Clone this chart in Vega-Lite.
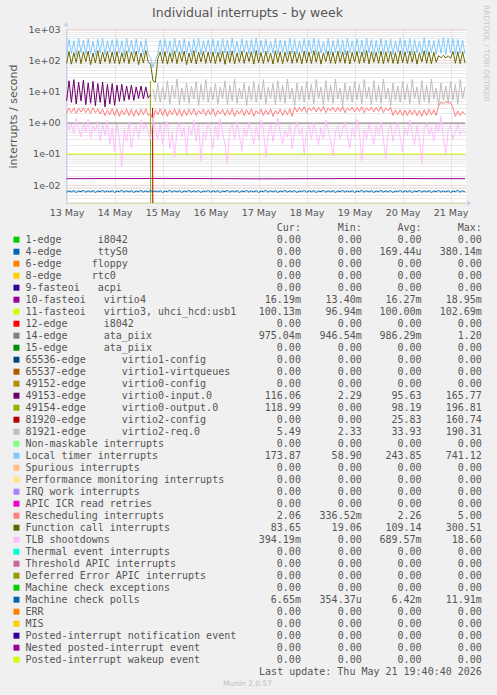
{
"$schema": "https://vega.github.io/schema/vega-lite/v6.json",
"background": "#f0f0f0",
"padding": {"left": 7, "top": 5, "right": 6, "bottom": 7},
"title": {"text": "RRDTOOL / TOBI OETIKER", "orient": "right", "anchor": "start", "frame": "group", "fontSize": 7.5, "fontWeight": "normal", "font": "DejaVu Sans", "color": "#c8c8c8", "offset": 1, "dx": -24},
"bounds": "flush",
"spacing": 18.7,
"resolve": {"scale": {"color": "independent", "x": "independent", "y": "independent"}},
"config": {"view": {"stroke": null}, "font": "DejaVu Sans"},
"datasets": {
"flat": [
{"h":12,"s":"V","v":0.0162},{"h":60,"s":"V","v":0.0165},{"h":110,"s":"V","v":0.016},{"h":160,"s":"V","v":0.0164},{"h":211.2,"s":"V","v":0.0162},
{"h":12,"s":"U","v":0.1},{"h":211.2,"s":"U","v":0.1},
{"h":12,"s":"K","v":0.98},{"h":211.2,"s":"K","v":0.98},
{"h":53.9,"s":"N","v":22},{"h":54,"s":"N","v":0.001},
{"h":55,"s":"D","v":3},{"h":55.1,"s":"D","v":0.001}
],
"wide": [
{"h":12,"T":150,"F":80,"P":5,"R":2,"B":1.2,"M":0.006},
{"h":13.2,"T":460,"F":190,"P":22,"R":2.9,"B":0.6,"M":0.0066},
{"h":14.4,"T":165,"F":75,"P":4.5,"R":2.1,"B":0.9,"M":0.0061},
{"h":15.6,"T":420,"F":175,"P":24,"R":3,"B":0.45,"M":0.0067},
{"h":16.8,"T":140,"F":85,"P":4,"R":2,"B":1.4,"M":0.0059},
{"h":18,"T":500,"F":200,"P":20,"R":2.9,"B":0.7,"M":0.0065},
{"h":19.2,"T":175,"F":78,"P":5,"R":2.2,"B":0.35,"M":0.0062},
{"h":20.4,"T":440,"F":185,"P":23,"R":3,"B":1,"M":0.0068},
{"h":21.6,"T":155,"F":90,"P":3.8,"R":2.1,"B":0.5,"M":0.006},
{"h":22.8,"T":480,"F":195,"P":19,"R":2.9,"B":1.3,"M":0.0066},
{"h":24,"T":160,"F":72,"P":4.2,"R":2,"B":0.3,"M":0.0061},
{"h":25.2,"T":400,"F":170,"P":21,"R":3,"B":0.8,"M":0.0067},
{"h":26.4,"T":145,"F":82,"P":3.5,"R":2.1,"B":0.55,"M":0.0059},
{"h":27.6,"T":470,"F":205,"P":18,"R":2.8,"B":1.1,"M":0.0065},
{"h":28.8,"T":170,"F":76,"P":4.5,"R":1.9,"B":0.25,"M":0.0062},
{"h":30,"T":510,"F":180,"P":20,"R":2.7,"B":0.9,"M":0.0068},
{"h":31.2,"T":150,"F":88,"P":3.2,"R":1.7,"B":0.4,"M":0.006},
{"h":32.4,"T":430,"F":190,"P":17,"R":2.6,"B":1.2,"M":0.0066},
{"h":33.6,"T":180,"F":80,"P":4,"R":1.8,"B":0.2,"M":0.0061},
{"h":34.8,"T":450,"F":185,"P":18,"R":2.8,"B":0.7,"M":0.0067},
{"h":36,"T":150,"F":80,"P":3.6,"R":1.7,"B":0.12,"M":0.0059},
{"h":37.2,"T":460,"F":190,"P":16,"R":2.7,"B":0.9,"M":0.0065},
{"h":38.4,"T":165,"F":75,"P":4.8,"R":1.6,"B":0.3,"M":0.0062},
{"h":39.6,"T":420,"F":175,"P":17,"R":2.6,"B":0.04,"M":0.0068},
{"h":40.8,"T":140,"F":85,"P":5,"R":1.8,"B":0.6,"M":0.006},
{"h":42,"T":500,"F":200,"P":15,"R":2.8,"B":0.25,"M":0.0066},
{"h":43.2,"T":175,"F":78,"P":5.5,"R":1.7,"B":1,"M":0.0061},
{"h":44.4,"T":440,"F":185,"P":16,"R":2.7,"B":0.15,"M":0.0067},
{"h":45.6,"T":155,"F":90,"P":5.2,"R":1.6,"B":0.5,"M":0.0059},
{"h":46.8,"T":480,"F":195,"P":14,"R":2.6,"B":0.8,"M":0.0065},
{"h":48,"T":160,"F":72,"P":6,"R":1.7,"B":0.3,"M":0.0062},
{"h":49.2,"T":400,"F":170,"P":15,"R":2.7,"B":1.2,"M":0.0068},
{"h":50.4,"T":145,"F":82,"P":5.8,"R":1.8,"B":0.6,"M":0.006},
{"h":51.6,"T":470,"F":205,"P":14,"R":2.8,"B":0.9,"M":0.0066},
{"h":52.8,"T":160,"F":90,"P":6.2,"R":1.7,"B":0.5,"M":0.0061},
{"h":54,"T":120,"F":75,"P":8,"R":2,"B":0.3,"M":0.0067},
{"h":55.2,"T":60,"F":22,"G":12,"R":1.2,"B":1.5,"M":0.0063},
{"h":56.4,"T":95,"F":20,"G":5,"R":2.6,"B":0.6,"M":0.0065},
{"h":57.6,"T":165,"F":110,"G":18,"R":1.8,"B":0.3,"M":0.0061},
{"h":58.8,"T":450,"F":185,"G":4.5,"R":2.8,"B":0.9,"M":0.0067},
{"h":60,"T":150,"F":80,"G":14,"R":1.7,"B":0.2,"M":0.0059},
{"h":61.2,"T":460,"F":190,"G":5.5,"R":2.7,"B":0.7,"M":0.0065},
{"h":62.4,"T":165,"F":75,"G":22,"R":1.6,"B":1.1,"M":0.0062},
{"h":63.6,"T":420,"F":175,"G":4,"R":2.6,"B":0.15,"M":0.0068},
{"h":64.8,"T":140,"F":85,"G":16,"R":1.8,"B":0.5,"M":0.006},
{"h":66,"T":500,"F":200,"G":6,"R":2.8,"B":0.08,"M":0.0066},
{"h":67.2,"T":175,"F":78,"G":25,"R":1.7,"B":0.6,"M":0.0061},
{"h":68.4,"T":440,"F":185,"G":3.8,"R":2.7,"B":1,"M":0.0067},
{"h":69.6,"T":155,"F":90,"G":13,"R":1.6,"B":0.35,"M":0.0059},
{"h":70.8,"T":480,"F":195,"G":5,"R":2.6,"B":0.7,"M":0.0065},
{"h":72,"T":160,"F":72,"G":19,"R":1.7,"B":0.1,"M":0.0062},
{"h":73.2,"T":400,"F":170,"G":4.2,"R":2.7,"B":0.8,"M":0.0068},
{"h":74.4,"T":145,"F":82,"G":15,"R":1.8,"B":0.4,"M":0.006},
{"h":75.6,"T":470,"F":205,"G":5.8,"R":2.8,"B":1.2,"M":0.0066},
{"h":76.8,"T":170,"F":76,"G":21,"R":1.7,"B":0.25,"M":0.0061},
{"h":78,"T":510,"F":180,"G":3.5,"R":2.5,"B":0.9,"M":0.0067},
{"h":79.2,"T":150,"F":88,"G":17,"R":1.9,"B":0.06,"M":0.0059},
{"h":80.4,"T":430,"F":190,"G":5.2,"R":2.7,"B":0.5,"M":0.0065},
{"h":81.6,"T":180,"F":80,"G":24,"R":1.7,"B":0.3,"M":0.0062},
{"h":82.8,"T":450,"F":185,"G":4.5,"R":2.6,"B":1,"M":0.0068},
{"h":84,"T":155,"F":82,"G":14,"R":1.8,"B":0.45,"M":0.006},
{"h":85.2,"T":470,"F":185,"G":5.5,"R":2.8,"B":0.15,"M":0.0066},
{"h":86.4,"T":160,"F":78,"G":18,"R":1.6,"B":0.8,"M":0.0061},
{"h":87.6,"T":430,"F":180,"G":4,"R":2.5,"B":0.3,"M":0.0067},
{"h":88.8,"T":150,"F":88,"G":14,"R":1.9,"B":1.3,"M":0.0059},
{"h":90,"T":490,"F":195,"G":6,"R":2.7,"B":0.5,"M":0.0065},
{"h":91.2,"T":170,"F":74,"G":22,"R":1.7,"B":0.2,"M":0.0062},
{"h":92.4,"T":450,"F":190,"G":3.8,"R":2.6,"B":0.05,"M":0.0068},
{"h":93.6,"T":145,"F":84,"G":16,"R":1.8,"B":0.6,"M":0.006},
{"h":94.8,"T":500,"F":200,"G":5,"R":2.8,"B":0.9,"M":0.0066},
{"h":96,"T":165,"F":77,"G":25,"R":1.6,"B":0.3,"M":0.0061},
{"h":97.2,"T":410,"F":172,"G":4.2,"R":2.5,"B":1.1,"M":0.0067},
{"h":98.4,"T":150,"F":86,"G":13,"R":1.9,"B":0.4,"M":0.0059},
{"h":99.6,"T":480,"F":198,"G":5.8,"R":2.7,"B":0.12,"M":0.0065},
{"h":100.8,"T":175,"F":80,"G":19,"R":1.7,"B":0.7,"M":0.0062},
{"h":102,"T":440,"F":182,"G":3.5,"R":2.6,"B":0.35,"M":0.0068},
{"h":103.2,"T":155,"F":90,"G":15,"R":1.8,"B":1,"M":0.006},
{"h":104.4,"T":460,"F":188,"G":5.2,"R":2.8,"B":0.5,"M":0.0066},
{"h":105.6,"T":160,"F":75,"G":21,"R":1.6,"B":0.2,"M":0.0061},
{"h":106.8,"T":520,"F":205,"G":4.5,"R":2.5,"B":0.8,"M":0.0067},
{"h":108,"T":148,"F":82,"G":17,"R":1.9,"B":0.3,"M":0.0059},
{"h":109.2,"T":430,"F":178,"G":5.5,"R":2.7,"B":1.2,"M":0.0065},
{"h":110.4,"T":170,"F":79,"G":24,"R":1.7,"B":0.6,"M":0.0062},
{"h":111.6,"T":470,"F":192,"G":4,"R":2.6,"B":0.08,"M":0.0068},
{"h":112.8,"T":158,"F":87,"G":14,"R":1.8,"B":0.4,"M":0.006},
{"h":114,"T":400,"F":170,"G":6,"R":2.8,"B":0.9,"M":0.0066},
{"h":115.2,"T":165,"F":76,"G":18,"R":1.6,"B":0.25,"M":0.0061},
{"h":116.4,"T":490,"F":200,"G":3.8,"R":2.5,"B":0.7,"M":0.0067},
{"h":117.6,"T":150,"F":85,"G":22,"R":1.9,"B":1.4,"M":0.0059},
{"h":118.8,"T":450,"F":186,"G":5,"R":2.7,"B":0.5,"M":0.0065},
{"h":120,"T":172,"F":78,"G":16,"R":1.7,"B":0.2,"M":0.0062},
{"h":121.2,"T":430,"F":180,"G":4.2,"R":2.6,"B":0.6,"M":0.0068},
{"h":122.4,"T":148,"F":88,"G":25,"R":1.8,"B":0.35,"M":0.006},
{"h":123.6,"T":500,"F":196,"G":5.8,"R":2.8,"B":0.9,"M":0.0066},
{"h":124.8,"T":160,"F":80,"G":13,"R":1.6,"B":0.15,"M":0.0061},
{"h":126,"T":470,"F":190,"G":3.5,"R":3.2,"B":0.5,"M":0.0067},
{"h":127.2,"T":155,"F":84,"G":19,"R":2.2,"B":1.1,"M":0.0059},
{"h":128.4,"T":420,"F":176,"G":5.2,"R":3.1,"B":0.4,"M":0.0065},
{"h":129.6,"T":175,"F":77,"G":15,"R":2.3,"B":0.7,"M":0.0062},
{"h":130.8,"T":480,"F":198,"G":4.5,"R":3.3,"B":0.1,"M":0.0068},
{"h":132,"T":150,"F":82,"G":21,"R":2.1,"B":0.5,"M":0.006},
{"h":133.2,"T":440,"F":184,"G":5.5,"R":3,"B":0.8,"M":0.0066},
{"h":134.4,"T":165,"F":79,"G":17,"R":2.4,"B":0.3,"M":0.0061},
{"h":135.6,"T":510,"F":202,"G":4,"R":3.2,"B":1,"M":0.0067},
{"h":136.8,"T":145,"F":86,"G":24,"R":2.2,"B":0.45,"M":0.0059},
{"h":138,"T":460,"F":188,"G":6,"R":3.1,"B":0.2,"M":0.0065},
{"h":139.2,"T":170,"F":75,"G":14,"R":2.3,"B":0.7,"M":0.0062},
{"h":140.4,"T":400,"F":172,"G":3.8,"R":3.3,"B":0.3,"M":0.0068},
{"h":141.6,"T":158,"F":90,"G":22,"R":2.1,"B":1.2,"M":0.006},
{"h":142.8,"T":490,"F":196,"G":5,"R":3,"B":0.6,"M":0.0066},
{"h":144,"T":150,"F":80,"G":16,"R":2.4,"B":0.25,"M":0.0061},
{"h":145.2,"T":430,"F":182,"G":4.2,"R":3.2,"B":0.09,"M":0.0067},
{"h":146.4,"T":175,"F":78,"G":25,"R":2.2,"B":0.5,"M":0.0059},
{"h":147.6,"T":470,"F":194,"G":5.8,"R":3.1,"B":0.8,"M":0.0065},
{"h":148.8,"T":160,"F":85,"G":13,"R":2.3,"B":0.3,"M":0.0062},
{"h":150,"T":450,"F":186,"G":3.5,"R":3.3,"B":0.6,"M":0.0068},
{"h":151.2,"T":148,"F":80,"G":19,"R":2.1,"B":1,"M":0.006},
{"h":152.4,"T":500,"F":200,"G":5.2,"R":3,"B":0.4,"M":0.0066},
{"h":153.6,"T":170,"F":76,"G":15,"R":2.4,"B":0.15,"M":0.0061},
{"h":154.8,"T":420,"F":178,"G":4.5,"R":3.2,"B":0.7,"M":0.0067},
{"h":156,"T":155,"F":88,"G":21,"R":2.2,"B":0.35,"M":0.0059},
{"h":157.2,"T":480,"F":192,"G":5.5,"R":3.1,"B":1.3,"M":0.0065},
{"h":158.4,"T":165,"F":79,"G":17,"R":2.3,"B":0.5,"M":0.0062},
{"h":159.6,"T":440,"F":184,"G":4,"R":3.3,"B":0.06,"M":0.0068},
{"h":160.8,"T":150,"F":84,"G":24,"R":2.1,"B":0.6,"M":0.006},
{"h":162,"T":510,"F":204,"G":6,"R":3,"B":0.3,"M":0.0066},
{"h":163.2,"T":172,"F":77,"G":14,"R":2.4,"B":0.9,"M":0.0061},
{"h":164.4,"T":460,"F":188,"G":3.8,"R":3.2,"B":0.45,"M":0.0067},
{"h":165.6,"T":145,"F":86,"G":22,"R":2.2,"B":0.2,"M":0.0059},
{"h":166.8,"T":430,"F":180,"G":5,"R":3.1,"B":0.8,"M":0.0065},
{"h":168,"T":160,"F":80,"G":16,"R":2.3,"B":0.4,"M":0.0062},
{"h":169.2,"T":490,"F":196,"G":4.2,"R":3.3,"B":1.1,"M":0.0068},
{"h":170.4,"T":155,"F":78,"G":25,"R":2.1,"B":0.3,"M":0.006},
{"h":171.6,"T":450,"F":186,"G":5.8,"R":3,"B":0.07,"M":0.0066},
{"h":172.8,"T":168,"F":85,"G":13,"R":2.4,"B":0.5,"M":0.0061},
{"h":174,"T":470,"F":192,"G":3.5,"R":3.2,"B":0.9,"M":0.0067},
{"h":175.2,"T":150,"F":80,"G":19,"R":1.7,"B":0.25,"M":0.0059},
{"h":176.4,"T":420,"F":176,"G":5.2,"R":2.6,"B":0.6,"M":0.0065},
{"h":177.6,"T":175,"F":77,"G":15,"R":1.8,"B":1,"M":0.0062},
{"h":178.8,"T":500,"F":200,"G":4.5,"R":2.6,"B":0.35,"M":0.0068},
{"h":180,"T":152,"F":83,"G":21,"R":1.7,"B":0.12,"M":0.006},
{"h":181.2,"T":440,"F":184,"G":5.5,"R":2.5,"B":0.7,"M":0.0066},
{"h":182.4,"T":165,"F":79,"G":17,"R":1.7,"B":0.4,"M":0.0061},
{"h":183.6,"T":480,"F":196,"G":4,"R":2.6,"B":1.2,"M":0.0067},
{"h":184.8,"T":148,"F":86,"G":24,"R":1.8,"B":0.5,"M":0.0059},
{"h":186,"T":460,"F":188,"G":6,"R":2.6,"B":0.2,"M":0.0065},
{"h":187.2,"T":170,"F":75,"G":14,"R":1.7,"B":0.8,"M":0.0062},
{"h":188.4,"T":410,"F":174,"G":3.8,"R":2.5,"B":0.3,"M":0.0068},
{"h":189.6,"T":158,"F":88,"G":22,"R":1.6,"B":0.05,"M":0.006},
{"h":190.8,"T":520,"F":202,"G":5,"R":2.6,"B":0.6,"M":0.0066},
{"h":192,"T":150,"F":80,"G":16,"R":1.7,"B":1,"M":0.0061},
{"h":193.2,"T":450,"F":186,"G":4.2,"R":2.7,"B":0.4,"M":0.0067},
{"h":194.4,"T":172,"F":78,"G":25,"R":1.8,"B":0.7,"M":0.0059},
{"h":195.6,"T":430,"F":180,"G":5.8,"R":2.6,"B":0.25,"M":0.0065},
{"h":196.8,"T":155,"F":86,"G":13,"R":1.7,"B":0.9,"M":0.0062},
{"h":198,"T":470,"F":140,"G":3.5,"R":3.5,"B":0.5,"M":0.0068},
{"h":199.2,"T":165,"F":120,"G":19,"R":4.6,"B":1.6,"M":0.006},
{"h":200.4,"T":540,"F":145,"G":5.2,"R":4,"B":0.3,"M":0.0066},
{"h":201.6,"T":150,"F":118,"G":15,"R":4.8,"B":0.1,"M":0.0061},
{"h":202.8,"T":500,"F":140,"G":4.5,"R":4.2,"B":0.6,"M":0.0067},
{"h":204,"T":170,"F":115,"G":21,"R":4.5,"B":0.8,"M":0.0059},
{"h":205.2,"T":480,"F":190,"G":5.5,"R":3,"B":0.3,"M":0.0065},
{"h":206.4,"T":150,"F":80,"G":17,"R":1.6,"B":0.5,"M":0.0062},
{"h":207.6,"T":460,"F":185,"G":4,"R":2.4,"B":0.9,"M":0.0068},
{"h":208.8,"T":165,"F":78,"G":24,"R":1.7,"B":0.4,"M":0.006},
{"h":210,"T":440,"F":188,"G":6,"R":2.3,"B":0.6,"M":0.0066},
{"h":211.2,"T":160,"F":82,"G":14,"R":1.8,"B":0.5,"M":0.0061}
],
"leg": [
{"r":0,"c":"Cur:\u00a0\u00a0","m":"Min:\u00a0\u00a0","a":"Avg:\u00a0\u00a0","x":"Max:\u00a0\u00a0"},
{"r":1,"n":"1-edge\u00a0\u00a0\u00a0\u00a0\u00a0\u00a0i8042","c":"0.00\u00a0","m":"0.00\u00a0","a":"0.00\u00a0","x":"0.00\u00a0"},
{"r":2,"n":"4-edge\u00a0\u00a0\u00a0\u00a0\u00a0\u00a0ttyS0","c":"0.00\u00a0","m":"0.00\u00a0","a":"169.44u","x":"380.14m"},
{"r":3,"n":"6-edge\u00a0\u00a0\u00a0\u00a0\u00a0floppy","c":"0.00\u00a0","m":"0.00\u00a0","a":"0.00\u00a0","x":"0.00\u00a0"},
{"r":4,"n":"8-edge\u00a0\u00a0\u00a0\u00a0\u00a0rtc0","c":"0.00\u00a0","m":"0.00\u00a0","a":"0.00\u00a0","x":"0.00\u00a0"},
{"r":5,"n":"9-fasteoi\u00a0\u00a0\u00a0acpi","c":"0.00\u00a0","m":"0.00\u00a0","a":"0.00\u00a0","x":"0.00\u00a0"},
{"r":6,"n":"10-fasteoi\u00a0\u00a0\u00a0virtio4","c":"16.19m","m":"13.40m","a":"16.27m","x":"18.95m"},
{"r":7,"n":"11-fasteoi\u00a0\u00a0\u00a0virtio3,\u00a0uhci_hcd:usb1","c":"100.13m","m":"96.94m","a":"100.00m","x":"102.69m"},
{"r":8,"n":"12-edge\u00a0\u00a0\u00a0\u00a0\u00a0\u00a0i8042","c":"0.00\u00a0","m":"0.00\u00a0","a":"0.00\u00a0","x":"0.00\u00a0"},
{"r":9,"n":"14-edge\u00a0\u00a0\u00a0\u00a0\u00a0\u00a0ata_piix","c":"975.04m","m":"946.54m","a":"986.29m","x":"1.20\u00a0"},
{"r":10,"n":"15-edge\u00a0\u00a0\u00a0\u00a0\u00a0\u00a0ata_piix","c":"0.00\u00a0","m":"0.00\u00a0","a":"0.00\u00a0","x":"0.00\u00a0"},
{"r":11,"n":"65536-edge\u00a0\u00a0\u00a0\u00a0\u00a0\u00a0virtio1-config","c":"0.00\u00a0","m":"0.00\u00a0","a":"0.00\u00a0","x":"0.00\u00a0"},
{"r":12,"n":"65537-edge\u00a0\u00a0\u00a0\u00a0\u00a0\u00a0virtio1-virtqueues","c":"0.00\u00a0","m":"0.00\u00a0","a":"0.00\u00a0","x":"0.00\u00a0"},
{"r":13,"n":"49152-edge\u00a0\u00a0\u00a0\u00a0\u00a0\u00a0virtio0-config","c":"0.00\u00a0","m":"0.00\u00a0","a":"0.00\u00a0","x":"0.00\u00a0"},
{"r":14,"n":"49153-edge\u00a0\u00a0\u00a0\u00a0\u00a0\u00a0virtio0-input.0","c":"116.06\u00a0","m":"2.29\u00a0","a":"95.63\u00a0","x":"165.77\u00a0"},
{"r":15,"n":"49154-edge\u00a0\u00a0\u00a0\u00a0\u00a0\u00a0virtio0-output.0","c":"118.99\u00a0","m":"0.00\u00a0","a":"98.19\u00a0","x":"196.81\u00a0"},
{"r":16,"n":"81920-edge\u00a0\u00a0\u00a0\u00a0\u00a0\u00a0virtio2-config","c":"0.00\u00a0","m":"0.00\u00a0","a":"25.83\u00a0","x":"160.74\u00a0"},
{"r":17,"n":"81921-edge\u00a0\u00a0\u00a0\u00a0\u00a0\u00a0virtio2-req.0","c":"5.49\u00a0","m":"2.33\u00a0","a":"33.93\u00a0","x":"190.31\u00a0"},
{"r":18,"n":"Non-maskable interrupts","c":"0.00\u00a0","m":"0.00\u00a0","a":"0.00\u00a0","x":"0.00\u00a0"},
{"r":19,"n":"Local timer interrupts","c":"173.87\u00a0","m":"58.90\u00a0","a":"243.85\u00a0","x":"741.12\u00a0"},
{"r":20,"n":"Spurious interrupts","c":"0.00\u00a0","m":"0.00\u00a0","a":"0.00\u00a0","x":"0.00\u00a0"},
{"r":21,"n":"Performance monitoring interrupts","c":"0.00\u00a0","m":"0.00\u00a0","a":"0.00\u00a0","x":"0.00\u00a0"},
{"r":22,"n":"IRQ work interrupts","c":"0.00\u00a0","m":"0.00\u00a0","a":"0.00\u00a0","x":"0.00\u00a0"},
{"r":23,"n":"APIC ICR read retries","c":"0.00\u00a0","m":"0.00\u00a0","a":"0.00\u00a0","x":"0.00\u00a0"},
{"r":24,"n":"Rescheduling interrupts","c":"2.06\u00a0","m":"336.52m","a":"2.26\u00a0","x":"5.00\u00a0"},
{"r":25,"n":"Function call interrupts","c":"83.65\u00a0","m":"19.06\u00a0","a":"109.14\u00a0","x":"300.51\u00a0"},
{"r":26,"n":"TLB shootdowns","c":"394.19m","m":"0.00\u00a0","a":"689.57m","x":"18.60\u00a0"},
{"r":27,"n":"Thermal event interrupts","c":"0.00\u00a0","m":"0.00\u00a0","a":"0.00\u00a0","x":"0.00\u00a0"},
{"r":28,"n":"Threshold APIC interrupts","c":"0.00\u00a0","m":"0.00\u00a0","a":"0.00\u00a0","x":"0.00\u00a0"},
{"r":29,"n":"Deferred Error APIC interrupts","c":"0.00\u00a0","m":"0.00\u00a0","a":"0.00\u00a0","x":"0.00\u00a0"},
{"r":30,"n":"Machine check exceptions","c":"0.00\u00a0","m":"0.00\u00a0","a":"0.00\u00a0","x":"0.00\u00a0"},
{"r":31,"n":"Machine check polls","c":"6.65m","m":"354.37u","a":"6.42m","x":"11.91m"},
{"r":32,"n":"ERR","c":"0.00\u00a0","m":"0.00\u00a0","a":"0.00\u00a0","x":"0.00\u00a0"},
{"r":33,"n":"MIS","c":"0.00\u00a0","m":"0.00\u00a0","a":"0.00\u00a0","x":"0.00\u00a0"},
{"r":34,"n":"Posted-interrupt notification event","c":"0.00\u00a0","m":"0.00\u00a0","a":"0.00\u00a0","x":"0.00\u00a0"},
{"r":35,"n":"Nested posted-interrupt event","c":"0.00\u00a0","m":"0.00\u00a0","a":"0.00\u00a0","x":"0.00\u00a0"},
{"r":36,"n":"Posted-interrupt wakeup event","c":"0.00\u00a0","m":"0.00\u00a0","a":"0.00\u00a0","x":"0.00\u00a0"},
{"r":37,"x":"Last update: Thu May 21 19:40:40 2026"}
]
},
"vconcat": [
{
"width": 400,
"height": 174,
"view": {"fill": "#ffffff", "stroke": null},
"title": {"text": "Individual interrupts - by week", "anchor": "middle", "frame": "group", "fontSize": 12.5, "fontWeight": "normal", "font": "DejaVu Sans", "color": "#555555", "offset": 2, "dx": -18.5},
"layer": [
{
"data": {"name": "flat"},
"mark": {"type": "line", "strokeWidth": 1, "clip": true},
"encoding": {
"x": {"field": "h", "type": "quantitative", "scale": {"domain": [11.7, 211.7], "nice": false, "zero": false},
"axis": {"values": [12,18,24,30,36,42,48,54,60,66,72,78,84,90,96,102,108,114,120,126,132,138,144,150,156,162,168,174,180,186,192,198,204,210],
"labelExpr": "(datum.value-12)%24==0 ? (13+(datum.value-12)/24)+' May' : ''",
"grid": true, "gridColor": {"condition": {"test": "datum.value % 24 == 0", "value": "#e8a8a8"}, "value": "#d2d2d2"}, "gridDash": [1,1], "gridWidth": 1,
"ticks": false, "domain": true, "domainColor": "#cfe3a3", "domainWidth": 1,
"labelFont": "DejaVu Sans", "labelFontSize": 9.5, "labelColor": "#555555", "labelPadding": 4, "labelOverlap": false, "labelBound": false, "labelFlush": false, "title": null}},
"y": {"field": "v", "type": "quantitative", "scale": {"type": "log", "domain": [0.0027, 1000], "nice": false},
"axis": {"values": [0.003,0.004,0.005,0.006,0.007,0.008,0.009,0.01,0.02,0.03,0.04,0.05,0.06,0.07,0.08,0.09,0.1,0.2,0.3,0.4,0.5,0.6,0.7,0.8,0.9,1,2,3,4,5,6,7,8,9,10,20,30,40,50,60,70,80,90,100,200,300,400,500,600,700,800,900,1000],
"labelExpr": "datum.value==1000?'1e+03':datum.value==100?'1e+02':datum.value==10?'1e+01':datum.value==1?'1e+00':datum.value==0.1?'1e-01':datum.value==0.01?'1e-02':''",
"grid": true, "gridColor": {"condition": {"test": "indexof([0.01,0.1,1,10,100,1000], datum.value) >= 0", "value": "#e8a8a8"}, "value": "#d2d2d2"}, "gridDash": [1,1], "gridWidth": 1,
"ticks": false, "domain": true, "domainColor": "#c8d0f0",
"labelFont": "DejaVu Sans", "labelFontSize": 9.5, "labelColor": "#555555", "labelPadding": 6, "labelOverlap": false, "labelBound": false, "labelFlush": false,
"title": "interrupts / second", "titleFont": "DejaVu Sans", "titleFontSize": 11, "titleFontWeight": "normal", "titleColor": "#555555", "titlePadding": 10}},
"color": {"field": "s", "type": "nominal", "scale": {"domain": ["V","U","K","N","D","P","G","T","R","F","B","M"], "range": ["#990099","#CCFF00","#808080","#8FB300","#B30000","#6B006B","#BEBEBE","#80C9FF","#FF8080","#666600","#FFBFFF","#0066B3"]}, "legend": null}
}
},
{
"data": {"name": "wide"},
"transform": [{"fold": ["P","G","T","R","F","B","M"], "as": ["s","v"]}, {"filter": "isValid(datum.v)"}],
"mark": {"type": "line", "strokeWidth": 1, "clip": true},
"encoding": {
"x": {"field": "h", "type": "quantitative"},
"y": {"field": "v", "type": "quantitative"},
"color": {"field": "s", "type": "nominal", "legend": null}
}
},
{
"data": {"values": [{}]},
"mark": {"type": "point", "shape": "triangle-up", "filled": true, "size": 28, "color": "#c8d0f0", "opacity": 1, "clip": false},
"encoding": {"x": {"datum": 11.7, "type": "quantitative"}, "y": {"datum": 1446, "type": "quantitative"}}
},
{
"data": {"values": [{}]},
"mark": {"type": "point", "shape": "triangle-right", "filled": true, "size": 28, "color": "#c8d0f0", "opacity": 1, "clip": false},
"encoding": {"x": {"datum": 213.4, "type": "quantitative"}, "y": {"datum": 0.0027, "type": "quantitative"}}
}
]
},
{
"width": 400,
"height": 456,
"view": {"stroke": null},
"data": {"name": "leg"},
"title": {"text": "Munin 2.0.57", "orient": "bottom", "anchor": "middle", "frame": "group", "fontSize": 7.5, "fontWeight": "normal", "font": "DejaVu Sans", "color": "#bdbdbd", "offset": 2, "dx": -18.5},
"encoding": {"y": {"field": "r", "type": "quantitative", "scale": {"domain": [-0.5, 37.5], "reverse": true, "nice": false, "zero": false}, "axis": null}},
"layer": [
{
"transform": [{"filter": "datum.r >= 1 && datum.r <= 36"}],
"mark": {"type": "point", "shape": "square", "filled": true, "size": 36, "opacity": 1},
"encoding": {
"x": {"datum": -1.5, "type": "quantitative", "scale": {"domain": [6.728, 73.17], "nice": false, "zero": false}, "axis": null},
"color": {"field": "r", "type": "ordinal", "scale": {"domain": [1,2,3,4,5,6,7,8,9,10,11,12,13,14,15,16,17,18,19,20,21,22,23,24,25,26,27,28,29,30,31,32,33,34,35,36],
"range": ["#00CC00","#0066B3","#FF8000","#FFCC00","#330099","#990099","#CCFF00","#FF0000","#808080","#008F00","#00487D","#B35A00","#B38F00","#6B006B","#8FB300","#B30000","#BEBEBE","#80FF80","#80C9FF","#FFC080","#FFE680","#AA80FF","#EE00CC","#FF8080","#666600","#FFBFFF","#00FFCC","#CC6699","#999900","#00CC00","#0066B3","#FF8000","#FFCC00","#330099","#990099","#CCFF00"]}, "legend": null}
}
},
{
"transform": [{"filter": "isValid(datum.n)"}],
"mark": {"type": "text", "align": "left", "baseline": "middle", "font": "DejaVu Sans Mono", "fontSize": 10, "color": "#555555"},
"encoding": {"x": {"datum": 0, "type": "quantitative"}, "text": {"field": "n"}}
},
{
"transform": [{"filter": "isValid(datum.c)"}],
"mark": {"type": "text", "align": "right", "baseline": "middle", "font": "DejaVu Sans Mono", "fontSize": 10, "color": "#555555"},
"encoding": {"x": {"datum": 45.75, "type": "quantitative"}, "text": {"field": "c"}}
},
{
"transform": [{"filter": "isValid(datum.m)"}],
"mark": {"type": "text", "align": "right", "baseline": "middle", "font": "DejaVu Sans Mono", "fontSize": 10, "color": "#555555"},
"encoding": {"x": {"datum": 55.85, "type": "quantitative"}, "text": {"field": "m"}}
},
{
"transform": [{"filter": "isValid(datum.a)"}],
"mark": {"type": "text", "align": "right", "baseline": "middle", "font": "DejaVu Sans Mono", "fontSize": 10, "color": "#555555"},
"encoding": {"x": {"datum": 65.8, "type": "quantitative"}, "text": {"field": "a"}}
},
{
"transform": [{"filter": "isValid(datum.x)"}],
"mark": {"type": "text", "align": "right", "baseline": "middle", "font": "DejaVu Sans Mono", "fontSize": 10, "color": "#555555"},
"encoding": {"x": {"datum": 75.8, "type": "quantitative"}, "text": {"field": "x"}}
}
]
}
]
}
